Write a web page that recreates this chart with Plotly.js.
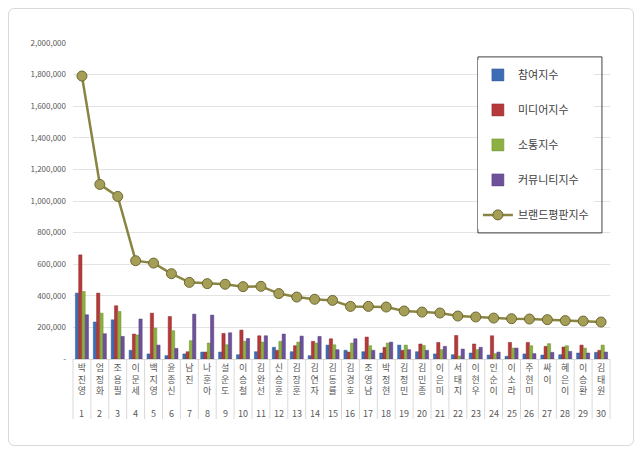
<!DOCTYPE html>
<html>
<head>
<meta charset="utf-8">
<script src="https://cdn.plot.ly/plotly-3.0.1.min.js"></script>
<style>
html,body{margin:0;padding:0;background:#fff;}
#wrap{position:relative;width:640px;height:455px;}
#chart{width:640px;height:455px;}
#frame{position:absolute;left:8px;top:8px;width:624px;height:436px;border:1px solid #d9d9d9;border-radius:6px;pointer-events:none;}
</style>
</head>
<body>
<div id="wrap"><div id="chart"></div><div id="frame"></div></div>
<script>
var names = ['박진영','엄정화','조용필','이문세','백지영','윤종신','남진','나훈아','설운도','이승철',
  '김완선','신승훈','김장훈','김연자','김동률','김경호','조영남','박정현','김정민','김민종',
  '이은미','서태지','이현우','인순이','이소라','주현미','싸이','혜은이','이승환','김태원'];
var ranks = ['1','2','3','4','5','6','7','8','9','10','11','12','13','14','15','16','17','18','19','20',
  '21','22','23','24','25','26','27','28','29','30'];
var participation = [417000,234000,248000,55000,32000,21000,32000,44000,44000,27000,
  46000,74000,46000,21000,88000,55000,46000,38000,88000,46000,
  32000,27000,38000,25000,17000,32000,25000,27000,38000,42000];
var media = [659000,417000,337000,158000,290000,269000,46000,44000,162000,183000,
  147000,55000,84000,112000,128000,44000,139000,74000,55000,95000,
  105000,149000,95000,147000,105000,105000,80000,76000,88000,55000];
var communication = [427000,290000,301000,152000,196000,179000,116000,101000,90000,112000,
  107000,112000,107000,101000,90000,101000,84000,101000,88000,86000,
  59000,19000,59000,34000,69000,84000,97000,84000,69000,88000];
var community = [280000,160000,143000,253000,88000,67000,284000,278000,166000,130000,
  147000,158000,145000,143000,59000,128000,55000,107000,59000,55000,
  80000,63000,74000,44000,69000,34000,42000,48000,38000,44000];
var brand = [1791000,1105000,1029000,622000,607000,540000,485000,477000,473000,458000,
  460000,414000,392000,378000,371000,333000,333000,329000,304000,297000,
  291000,272000,266000,259000,255000,253000,249000,243000,240000,234000];
var yTickVals = [0,200000,400000,600000,800000,1000000,1200000,1400000,1600000,1800000,2000000];
var yTickText = ['-','200,000','400,000','600,000','800,000','1,000,000','1,200,000','1,400,000','1,600,000','1,800,000','2,000,000'];
var seriesNames = ['참여지수','미디어지수','소통지수','커뮤니티지수','브랜드평판지수'];

var FONT = 'Noto Sans CJK KR, Noto Sans, sans-serif';
var stacked = names.map(function(n){ return n.split('').join('<br>'); });

function bar(y, name, color, edge, g){
  return {type:'bar', x:names, y:y, name:name, legendgroup:g,
    marker:{color:color, line:{color:edge, width:0.5}}, hoverinfo:'skip'};
}
var traces = [
  bar(participation, seriesNames[0], '#3F6DB5', '#2E5590', 'a'),
  bar(media, seriesNames[1], '#B5393A', '#8E2A2B', 'b'),
  bar(communication, seriesNames[2], '#8DB043', '#6E8C30', 'c'),
  bar(community, seriesNames[3], '#6E519B', '#553D7A', 'd'),
  {type:'scatter', mode:'lines+markers', x:names, y:brand, name:seriesNames[4], legendgroup:'e',
    line:{color:'#8A8443', width:2.5},
    marker:{symbol:'circle', size:10, color:'#A59E57', line:{color:'#6E6930', width:1}},
    hoverinfo:'skip'}
];

var annotations = names.map(function(n, i){
  return {x:n, xref:'x', y:0, yref:'paper', yshift:-54, text:ranks[i], showarrow:false,
    font:{family:FONT, size:9, color:'#595959'}, xanchor:'center', yanchor:'middle'};
});
var shapes = [];
for (var i = 0; i <= names.length; i++) {
  shapes.push({type:'line', xref:'paper', yref:'paper', x0:i/names.length, x1:i/names.length,
    y0:0, y1:-0.19, line:{color:'#d9d9d9', width:1}});
}
shapes.push({type:'rect', xref:'paper', yref:'paper', x0:0.754, x1:0.985, y0:0.399, y1:0.956,
  line:{color:'#404040', width:1}, fillcolor:'rgba(255,255,255,0)', layer:'above'});

var layout = {
  width:640, height:455,
  margin:{l:73, r:30, t:43, b:96},
  paper_bgcolor:'rgba(0,0,0,0)', plot_bgcolor:'#fff',
  font:{family:FONT, color:'#595959'},
  barmode:'group', bargap:0.27, bargroupgap:0,
  showlegend:true,
  legend:{x:0.754, y:0.945, xanchor:'left', yanchor:'top', bgcolor:'#fff', borderwidth:0,
    font:{family:FONT, size:11, color:'#404040'}, traceorder:'grouped', tracegroupgap:16},
  xaxis:{type:'category', range:[-0.5, 29.5], tickvals:names, ticktext:stacked, tickangle:0,
    tickfont:{family:FONT, size:9, color:'#595959'}, showgrid:false, zeroline:false,
    showline:true, linecolor:'#d9d9d9', ticks:'', fixedrange:true},
  yaxis:{range:[0, 2000000], tickvals:yTickVals, ticktext:yTickText,
    tickfont:{family:FONT, size:8, color:'#595959'}, gridcolor:'#e3e3e3', gridwidth:1,
    zeroline:false, showline:false, ticks:'', ticklabelstandoff:6, fixedrange:true},
  annotations:annotations,
  shapes:shapes
};
Plotly.newPlot('chart', traces, layout, {displayModeBar:false, staticPlot:true});
</script>
</body>
</html>
